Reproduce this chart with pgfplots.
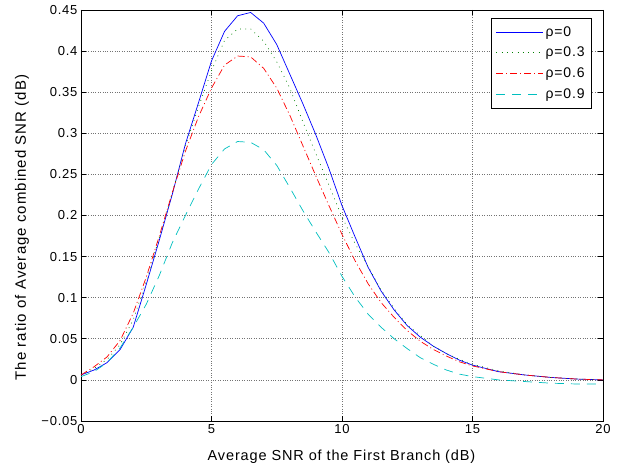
\documentclass[border=0pt]{standalone}
\usepackage{pgfplots}
\pgfplotsset{compat=1.18}
\usepackage{fontspec}
\setmainfont{Liberation Sans}
\newfontfamily\labelfont{Liberation Sans}[LetterSpace=6]
\newfontfamily\ylabelfont{Liberation Sans}[LetterSpace=7]
\definecolor{mblue}{rgb}{0,0,1}
\definecolor{mgreen}{rgb}{0,0.5,0}
\definecolor{mred}{rgb}{1,0,0}
\definecolor{mcyan}{rgb}{0,0.75,0.75}

\begin{document}
\begin{tikzpicture}
\useasboundingbox (-81pt,-47pt) rectangle (544pt,421pt);
\begin{axis}[
  at={(0pt,0pt)}, anchor=south west,
  scale only axis, width=522pt, height=411pt,
  xmin=0, xmax=20, ymin=-0.05, ymax=0.45,
  xtick={0,5,10,15,20},
  xticklabels={0,5,10,15,20},
  ytick={-0.05,0,0.05,0.1,0.15,0.2,0.25,0.3,0.35,0.4,0.45},
  yticklabels={−0.05,0,0.05,0.1,0.15,0.2,0.25,0.3,0.35,0.4,0.45},
  tick label style={font=\labelfont\fontsize{13}{15}\selectfont},
  xlabel style={font=\labelfont\fontsize{14.5}{16}\selectfont,
    at={(axis description cs:0.499,-0.0876)}, anchor=center},
  ylabel style={font=\ylabelfont\fontsize{15}{16}\selectfont,
    at={(axis description cs:-0.113,0.471)}, anchor=center},
  xlabel={Average SNR of the First Branch (dB)},
  ylabel={The ratio of Average combined SNR (dB)},
  tick align=inside, tick pos=both,
  major tick length=5pt,
  tick style={black, line width=0.6pt},
  axis line style={black, line width=0.8pt},
  grid=major,
  grid style={black!55, dotted, line width=0.6pt},
  legend style={at={(0.979,0.9805)}, anchor=north east,
    line width=0.8pt, fill=white,
    font=\labelfont\fontsize{14}{16}\selectfont,
    row sep=5.5pt, inner xsep=5pt, inner ysep=6pt},
  legend cell align=left,
  legend image code/.code={\draw[#1] (0pt,0pt) -- (47pt,0pt);},
]
\addplot[mblue, line width=0.7pt] coordinates {
(0,0.006) (0.5,0.012) (1,0.021) (1.5,0.037) (2,0.064) (2.5,0.116) (3,0.170)
(3.5,0.226) (4,0.287) (4.5,0.337) (5,0.388) (5.5,0.424) (6,0.443) (6.5,0.447)
(7,0.434) (7.5,0.408) (8,0.372) (8.5,0.336) (9,0.298) (9.5,0.257) (10,0.212)
(10.5,0.174) (11,0.137) (11.5,0.108) (12,0.085) (12.5,0.066) (13,0.052)
(13.5,0.041) (14,0.032) (14.5,0.024) (15,0.018) (16,0.010) (17,0.006)
(18,0.003) (19,0.001) (20,0.000)};
\addlegendentry{ρ=0}
\addplot[mgreen, line width=0.7pt, dash pattern=on 0.8pt off 4.5pt] coordinates {
(0,0.006) (0.5,0.014) (1,0.025) (1.5,0.043) (2,0.073) (2.5,0.120) (3,0.173)
(3.5,0.228) (4,0.284) (4.5,0.332) (5,0.376) (5.5,0.413) (6,0.427) (6.5,0.427)
(7,0.412) (7.5,0.387) (8,0.355) (8.5,0.314) (9,0.275) (9.5,0.237) (10,0.198)
(10.5,0.166) (11,0.138) (11.5,0.109) (12,0.087) (12.5,0.067) (13,0.054)
(13.5,0.041) (14,0.032) (14.5,0.025) (15,0.019) (16,0.011) (17,0.006)
(18,0.003) (19,0.001) (20,0.000)};
\addlegendentry{ρ=0.3}
\addplot[mred, line width=0.7pt, dash pattern=on 7pt off 3pt on 1pt off 3pt] coordinates {
(0,0.006) (0.5,0.016) (1,0.028) (1.5,0.048) (2,0.081) (2.5,0.125) (3,0.175)
(3.5,0.228) (4,0.278) (4.5,0.320) (5,0.355) (5.5,0.383) (6,0.394) (6.5,0.393)
(7,0.379) (7.5,0.355) (8,0.322) (8.5,0.285) (9,0.248) (9.5,0.212) (10,0.177)
(10.5,0.145) (11,0.117) (11.5,0.094) (12,0.076) (12.5,0.060) (13,0.047)
(13.5,0.037) (14,0.029) (14.5,0.022) (15,0.017) (16,0.010) (17,0.006)
(18,0.003) (19,0.001) (20,0.000)};
\addlegendentry{ρ=0.6}
\addplot[mcyan, line width=0.7pt, dash pattern=on 9pt off 7pt] coordinates {
(0,0.004) (0.5,0.010) (1,0.021) (1.5,0.039) (2,0.064) (2.5,0.092) (3,0.127)
(3.5,0.167) (4,0.200) (4.5,0.232) (5,0.262) (5.5,0.281) (6,0.290) (6.5,0.289)
(7,0.280) (7.5,0.261) (8,0.234) (8.5,0.206) (9,0.180) (9.5,0.155) (10,0.126)
(10.5,0.101) (11,0.080) (11.5,0.064) (12,0.050) (12.5,0.038) (13,0.027)
(13.5,0.019) (14,0.012) (14.5,0.007) (15,0.004) (16,0.000) (17,-0.002)
(18,-0.004) (19,-0.005) (20,-0.005)};
\addlegendentry{ρ=0.9}
\end{axis}
\end{tikzpicture}
\end{document}
